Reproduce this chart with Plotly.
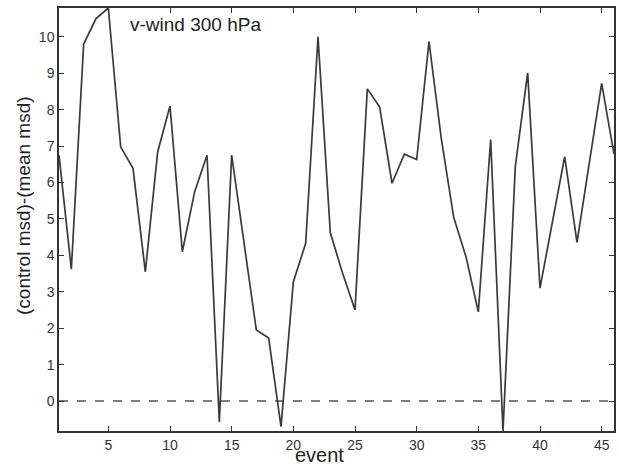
import plotly.graph_objects as go

events = list(range(1, 47))
values = [6.75, 3.62, 9.8, 10.5, 10.79, 6.98, 6.39, 3.55, 6.84, 8.1,
          4.1, 5.75, 6.75, -0.57, 6.75, 4.35, 1.95, 1.73, -0.7, 3.27,
          4.33, 10.0, 4.62, 3.5, 2.5, 8.57, 8.07, 5.98, 6.78, 6.63,
          9.87, 7.2, 5.05, 3.96, 2.45, 7.18, -0.82, 6.45, 9.01, 3.1,
          4.95, 6.71, 4.36, 6.55, 8.72, 6.78]
zero_x = [1, 46]
zero_y = [0, 0]
x_ticks = [5, 10, 15, 20, 25, 30, 35, 40, 45]
y_ticks = [0, 1, 2, 3, 4, 5, 6, 7, 8, 9, 10]

FONT = "Liberation Sans, Arial, Helvetica, sans-serif"
AX = "#333333"

fig = go.Figure()
fig.add_trace(go.Scatter(x=zero_x, y=zero_y, mode="lines",
                         line=dict(color="#555555", width=1.5, dash="dash"),
                         hoverinfo="skip", showlegend=False))
fig.add_trace(go.Scatter(x=events, y=values, mode="lines",
                         line=dict(color="#3a3a3a", width=1.7),
                         showlegend=False))

axis_common = dict(showline=True, linecolor=AX, linewidth=1.5, mirror="allticks",
                   ticks="inside", ticklen=5, tickcolor=AX, tickwidth=1.2,
                   showgrid=False, zeroline=False,
                   tickfont=dict(family=FONT, size=14, color="#333333"))

fig.update_layout(
    width=619, height=467,
    margin=dict(l=59, r=3, t=8, b=36),
    paper_bgcolor="white", plot_bgcolor="white",
    xaxis=dict(range=[1, 46], tickvals=x_ticks, **axis_common),
    yaxis=dict(range=[-0.82, 10.79], tickvals=y_ticks, **axis_common),
    annotations=[
        dict(text="v-wind 300 hPa", xref="paper", yref="paper",
             x=0.124, y=0.96, xanchor="left", yanchor="middle", showarrow=False,
             font=dict(family=FONT, size=19, color="#222222")),
        dict(text="event", xref="paper", yref="paper",
             x=0.4686, y=-0.0845, xanchor="center", yanchor="bottom", showarrow=False,
             borderpad=0,
             font=dict(family=FONT, size=20, color="#222222")),
        dict(text="(control msd)-(mean msd)", xref="paper", yref="paper",
             x=-0.063, y=0.532, xanchor="center", yanchor="middle", showarrow=False,
             textangle=-90,
             font=dict(family=FONT, size=19, color="#222222")),
    ],
)

fig.write_html("out.html", config={"displayModeBar": False},
               post_script="document.body.style.margin='0px';document.body.style.overflow='hidden';")
